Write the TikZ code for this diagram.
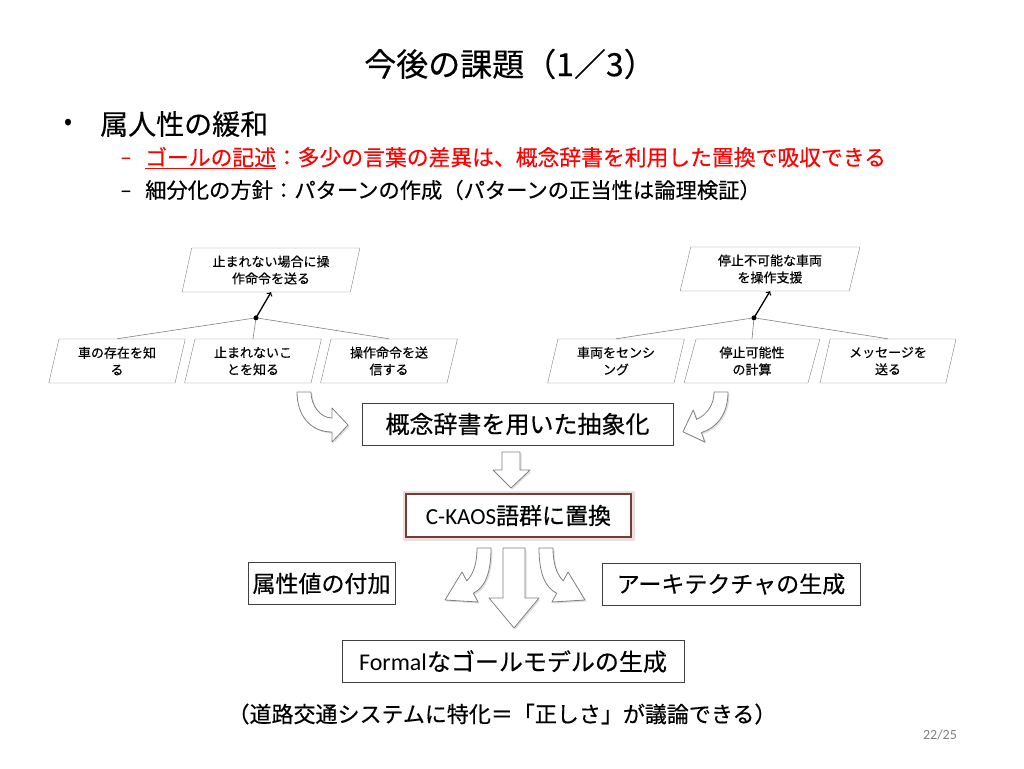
\documentclass[tikz,border=0pt]{standalone}
\usepackage{fontspec}
\setmainfont{Noto Sans CJK JP}[FakeBold=0.4]
\newfontfamily\calibri{Carlito}
\usetikzlibrary{shapes.geometric,shadows,calc}
\definecolor{boxred}{RGB}{122,58,58}
\newcommand{\fsz}[2]{\fontsize{#1pt}{#2pt}\selectfont}
\begin{document}
\begin{tikzpicture}[x=1pt,y=-1pt,
goal/.style = {draw=black!50, trapezium, trapezium left angle=77, trapezium right angle=103, trapezium stretches=true, minimum height=44pt, align=center, inner sep=1pt, font=\fsz{13}{17}},
proc/.style = {draw=black!75, fill=white, minimum height=42pt, font=\fsz{23}{26}},
barrow/.style = {draw=black!50, fill=white, line width=0.8pt, line join=round, drop shadow={opacity=0.25, shadow xshift=1.5pt, shadow yshift=-1.5pt}},
link/.style = {draw=black!50, line width=0.6pt},
refine/.style = {->, line width=1.3pt}]
\useasboundingbox (0,0) rectangle (1024,768);

\node[font=\fsz{32}{36}] (title) at (510,64) {今後の課題（1／3）};
\node[font=\fsz{24}{28}] (bul) at (68,124) {•};
\node[anchor=west, inner sep=0, font=\fsz{28}{32}] (topic) at (100,124) {属人性の緩和};
\node[anchor=west, inner sep=0, text=red, font=\fsz{21.8}{24}] (p1) at (145,158) {\underline{ゴールの記述}：多少の言葉の差異は、概念辞書を利用した置換で吸収できる};
\node[anchor=west, inner sep=0, font=\fsz{21.3}{24}] (p2) at (145,190) {細分化の方針：パターンの作成（パターンの正当性は論理検証）};
\node[anchor=base, inner sep=0, text=red, font=\calibri\fsz{24}{26}] (d1) at ($(p1.base west)+(-19,0)$) {–};
\node[anchor=base, inner sep=0, font=\calibri\fsz{24}{26}] (d2) at ($(p2.base west)+(-19,0)$) {–};

% left goal tree
\node[goal, minimum width=178pt] (lg) at (271,270) {止まれない場合に操\\作命令を送る};
\node[goal, minimum width=137pt] (l1) at (117,361) {車の存在を知\\る};
\node[goal, minimum width=137pt, right of=l1, node distance=136pt] (l2) {止まれないこ\\とを知る};
\node[goal, minimum width=137pt, right of=l2, node distance=136pt] (l3) {操作命令を送\\信する};
\coordinate (ld) at ($(l2.north)+(3,-21)$);
\draw[link] (ld) -- (l1.north);
\draw[link] (ld) -- (l2.north);
\draw[link] (ld) -- (l3.north);
\fill (ld) circle (2.5);
\draw[refine] (ld) -- (lg.south);

% right goal tree
\node[goal, minimum width=180pt] (rg) at (770,269) {停止不可能な車両\\を操作支援};
\node[goal, minimum width=137pt] (r1) at (616,361) {車両をセンシ\\ング};
\node[goal, minimum width=137pt, right of=r1, node distance=136pt] (r2) {停止可能性\\の計算};
\node[goal, minimum width=137pt, right of=r2, node distance=136pt] (r3) {メッセージを\\送る};
\coordinate (rd) at ($(r2.north)+(2,-21)$);
\draw[link] (rd) -- (r1.north);
\draw[link] (rd) -- (r2.north);
\draw[link] (rd) -- (r3.north);
\fill (rd) circle (2.5);
\draw[refine] (rd) -- (rg.south);

% process boxes
\node[proc, minimum width=311pt, font=\fsz{24}{28}] (abs) at (517.5,424) {概念辞書を用いた抽象化};
\node[proc, minimum width=225pt, minimum height=43pt, draw=boxred, line width=2.5pt, preaction={draw=boxred!45, line width=7pt, opacity=0.35}] (ck) at (518.5,515.5) {{\calibri C-KAOS}語群に置換};
\node[proc, minimum width=147pt] (attr) at (321.5,583.5) {属性値の付加};
\node[proc, minimum width=258pt] (arch) at (731,584) {アーキテクチャの生成};
\node[proc, minimum width=342pt, font=\fsz{24}{28}] (formal) at (513,661.5) {{\calibri Formal}なゴールモデルの生成};

% block arrows
\draw[barrow] (297,392) .. controls (297,415) and (310,432) .. (332,432) -- (332,442) -- (348,425) -- (332,408) -- (332,418) .. controls (320,418) and (311,405) .. (311,392) -- cycle;
\draw[barrow] (714,392) -- (728,392) .. controls (728,415) and (716,428) .. (701.4,432.6) -- (704.8,442) -- (683,431.8) -- (693.2,410) -- (696.6,419.4) .. controls (708,414) and (714,404) .. (714,392) -- cycle;
\draw[barrow] (502,452) -- (520,452) -- (520,470) -- (530,470) -- (511,488) -- (493,470) -- (502,470) -- cycle;
\draw[barrow] (477,548) -- (491,548) .. controls (491,575) and (484,588) .. (473.3,593.2) -- (478,602) -- (445,600) -- (462,572) -- (466.7,580.8) .. controls (474,574) and (477,562) .. (477,548) -- cycle;
\draw[barrow] (553,548) -- (539,548) .. controls (539,575) and (546,588) .. (556.7,593.2) -- (552,602) -- (585,600) -- (568,572) -- (563.3,580.8) .. controls (556,574) and (553,562) .. (553,548) -- cycle;
\draw[barrow] (503,548) -- (525,548) -- (525,598) -- (539,598) -- (514,628) -- (489,598) -- (503,598) -- cycle;

\node[font=\fsz{22}{26}] (note) at (502,714) {（道路交通システムに特化＝「正しさ」が議論できる）};
\node[text=black!50, font=\calibri\fsz{14}{16}] (page) at (940,735) {22/25};
\end{tikzpicture}
\end{document}
